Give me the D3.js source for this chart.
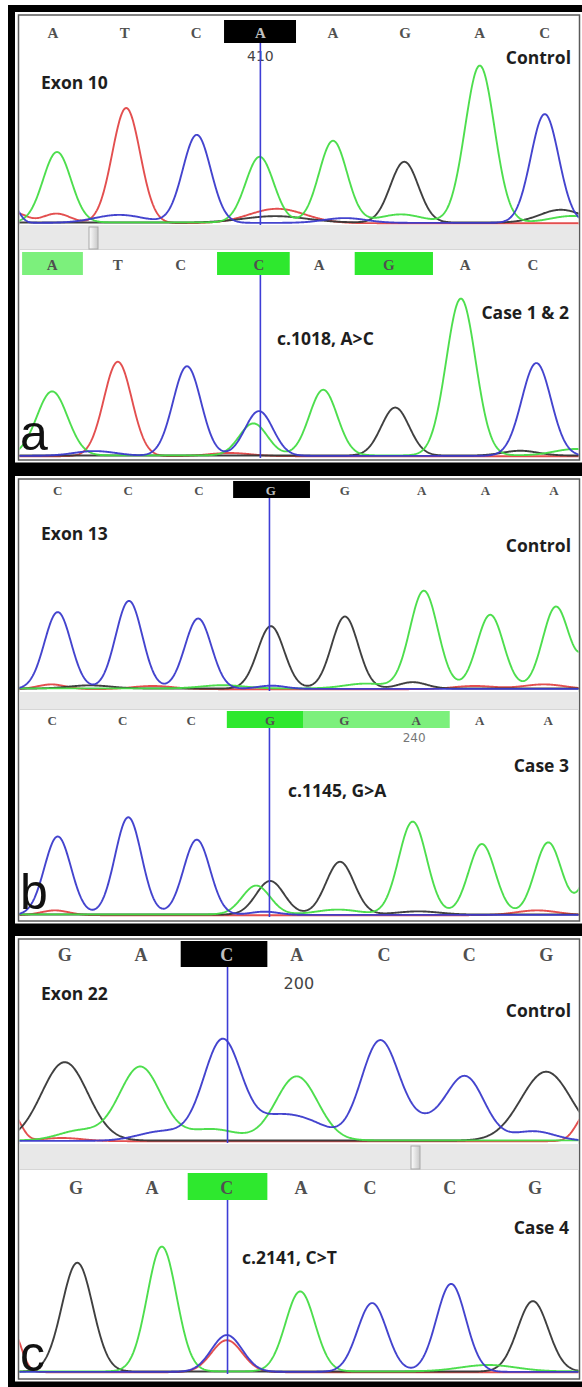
<!DOCTYPE html>
<html>
<head>
<meta charset="utf-8">
<script src="https://cdn.jsdelivr.net/npm/d3@7"></script>
<style>
  body { margin: 0; background: #fff; }
  svg { display: block; }
</style>
</head>
<body>
<svg id="fig" width="582" height="1387"></svg>
<script>
// base calls of each row, positions in base units across the window (0..8)
const callsA1 = ["A", "T", "C", "A", "A", "G", "A", "C"];
const callPosA1 = [0.47, 1.50, 2.52, 3.44, 4.48, 5.51, 6.58, 7.51];
const callsA2 = ["A", "T", "C", "C", "A", "G", "A", "C"];
const callPosA2 = [0.46, 1.40, 2.30, 3.42, 4.28, 5.28, 6.37, 7.34];
const callsB1 = ["C", "C", "C", "G", "G", "A", "A", "A"];
const callPosB1 = [0.54, 1.55, 2.56, 3.59, 4.65, 5.75, 6.66, 7.64];
const callsB2 = ["C", "C", "C", "G", "G", "A", "A", "A"];
const callPosB2 = [0.46, 1.47, 2.45, 3.58, 4.64, 5.67, 6.58, 7.56];
const callsC1 = ["G", "A", "C", "A", "C", "C", "G"];
const callPosC1 = [0.64, 1.73, 2.96, 3.96, 5.21, 6.43, 7.53];
const callsC2 = ["G", "A", "C", "A", "C", "C", "G"];
const callPosC2 = [0.80, 1.89, 2.96, 4.02, 5.01, 6.15, 7.37];

// highlighted calls [from, to, kind]
const marksA1 = [[2.92, 3.95, "sel"]];
const marksA2 = [[0.03, 0.90, "lo"], [2.82, 3.86, "hi"], [4.79, 5.91, "hi"]];
const marksB1 = [[3.05, 4.15, "sel"]];
const marksB2 = [[2.96, 4.05, "hi"], [4.05, 6.15, "lo"]];
const marksC1 = [[2.30, 3.54, "sel"]];
const marksC2 = [[2.40, 3.54, "hi"]];

// scan numbers shown above the trace [position, label]
const scanA1 = [[3.44, "410"]];
const scanB2 = [[5.64, "240"]];
const scanC1 = [[3.99, "200"]];

// mutation cursor per panel (base units)
const cursorPos = [3.44, 3.57, 2.97];

// peaks: [channel, position, height, width]
const peaksA1 = [
  ["C", -0.12, 12, 0.1], ["T", -0.05, 6, 0.15],
  ["A", 0.53, 44, 0.2], ["T", 0.52, 6, 0.2],
  ["T", 1.52, 72, 0.2], ["C", 1.42, 5, 0.35],
  ["C", 2.53, 55, 0.2],
  ["A", 3.43, 41, 0.2], ["T", 3.68, 9, 0.4], ["G", 3.65, 4, 0.45],
  ["A", 4.48, 51, 0.2], ["C", 4.65, 3, 0.3],
  ["G", 5.50, 38, 0.2], ["A", 5.45, 5, 0.3],
  ["A", 6.58, 98, 0.21],
  ["C", 7.51, 68, 0.2], ["G", 7.74, 8, 0.3], ["A", 7.9, 4, 0.3]
];
const peaksA2 = [
  ["A", 0.46, 40, 0.22], ["T", 1.40, 59, 0.2], ["C", 1.07, 3, 0.3],
  ["C", 2.39, 56, 0.2], ["T", 3.0, 2, 0.3],
  ["C", 3.42, 28, 0.2], ["A", 3.34, 20, 0.2],
  ["A", 4.34, 41, 0.2], ["G", 5.37, 30, 0.2],
  ["A", 6.31, 98, 0.21], ["G", 7.16, 3, 0.25],
  ["C", 7.39, 58, 0.21], ["A", 7.95, 4, 0.3]
];
const peaksB1 = [
  ["C", 0.54, 48, 0.19], ["C", 1.56, 55, 0.19], ["C", 2.55, 44, 0.19],
  ["G", 3.59, 39, 0.19], ["G", 4.65, 45, 0.19],
  ["A", 5.78, 61, 0.2], ["A", 6.73, 46, 0.19], ["A", 7.67, 51, 0.19], ["A", 8.3, 40, 0.19],
  ["T", 0.45, 3, 0.2], ["G", 1.0, 2, 0.3], ["T", 1.9, 2, 0.3], ["A", 2.9, 2, 0.3],
  ["C", 3.6, 2, 0.2], ["A", 4.95, 3, 0.3], ["G", 5.62, 4, 0.2], ["T", 6.5, 2, 0.3], ["T", 7.5, 3, 0.3]
];
const peaksB2 = [
  ["C", 0.54, 49, 0.19], ["C", 1.55, 61, 0.19], ["C", 2.53, 47, 0.19],
  ["G", 3.58, 21, 0.2], ["A", 3.38, 18, 0.2], ["C", 3.5, 2, 0.2],
  ["G", 4.58, 33, 0.2], ["A", 4.55, 3, 0.3],
  ["A", 5.62, 58, 0.2], ["G", 5.7, 2, 0.3],
  ["A", 6.61, 44, 0.19], ["A", 7.56, 45, 0.19], ["A", 8.3, 45, 0.19],
  ["T", 0.5, 3, 0.2], ["T", 7.4, 3, 0.3]
];
const peaksC1 = [
  ["T", -0.1, 16, 0.12], ["T", 0.6, 2, 0.3],
  ["G", 0.64, 49, 0.33], ["A", 0.85, 6, 0.3],
  ["A", 1.72, 46, 0.3], ["C", 2.05, 6, 0.35],
  ["C", 2.9, 63, 0.27], ["A", 2.75, 7, 0.35],
  ["C", 3.65, 13, 0.3], ["C", 4.15, 10, 0.3],
  ["A", 3.96, 40, 0.3],
  ["C", 5.15, 62, 0.27], ["C", 5.8, 10, 0.3],
  ["C", 6.38, 39, 0.27], ["C", 7.35, 6, 0.3],
  ["G", 7.53, 43, 0.36], ["T", 8.12, 18, 0.15]
];
const peaksC2 = [
  ["T", -0.1, 25, 0.12],
  ["G", 0.82, 68, 0.22], ["A", 2.03, 78, 0.21],
  ["C", 2.96, 23, 0.22], ["T", 2.96, 20, 0.22],
  ["A", 4.01, 50, 0.21], ["C", 5.04, 43, 0.21],
  ["C", 6.17, 55, 0.21], ["A", 6.7, 4, 0.4],
  ["G", 7.34, 44, 0.22]
];

const exonLabels = ["Exon 10", "Exon 13", "Exon 22"];
const caseLabels = ["Case 1 & 2", "Case 3", "Case 4"];
const mutLabels = ["c.1018, A>C", "c.1145, G>A", "c.2141, C>T"];
const panelLetters = ["a", "b", "c"];

// ---- layout ----
const channelColor = { A: "#45dc45", C: "#3a3acb", G: "#363636", T: "#e24646" };
const channelOffset = { A: 1.0, C: 0.7, G: 0.9, T: 0.5 };
const markFill = { sel: "#000", hi: "#2ee82e", lo: "#7cf07c" };

const panels = [
  { top: 12, bottom: 462.5, box1: [20, 43], base1: 224, bar: [225, 250], thumb: 89,
    box2: [252, 275], base2: 457, callSize: 15, scanY: 56, scanSize: 14,
    exonY: 82, ctrlY: 57, caseY: 312, mutX: 277, mutY: 338, letterY: 450,
    rows: [[callsA1, callPosA1, marksA1, peaksA1, scanA1], [callsA2, callPosA2, marksA2, peaksA2, []]] },
  { top: 476, bottom: 923.5, box1: [481, 498], base1: 690, bar: [692, 710], thumb: null,
    box2: [711, 728], base2: 916, callSize: 13, scanY: 738, scanSize: 12,
    exonY: 533, ctrlY: 545, caseY: 765, mutX: 288, mutY: 790, letterY: 909,
    rows: [[callsB1, callPosB1, marksB1, peaksB1, []], [callsB2, callPosB2, marksB2, peaksB2, scanB2]] },
  { top: 936, bottom: 1381.5, box1: [941, 967], base1: 1142, bar: [1144, 1170], thumb: 411,
    box2: [1173, 1200], base2: 1373, callSize: 18, scanY: 983, scanSize: 16,
    exonY: 993, ctrlY: 1010, caseY: 1227, mutX: 242, mutY: 1257, letterY: 1371,
    rows: [[callsC1, callPosC1, marksC1, peaksC1, scanC1], [callsC2, callPosC2, marksC2, peaksC2, []]] }
];

const svg = d3.select("#fig");
const x = d3.scaleLinear().domain([0, 8]).range([20, 579]);
const grid = d3.range(-0.05, 8.06, 0.01);
const labelFont = "'Open Sans', 'Noto Sans', sans-serif";

const defs = svg.append("defs");
const thumbGrad = defs.append("linearGradient").attr("id", "thumbGrad")
  .attr("x1", 0).attr("x2", 1).attr("y1", 0).attr("y2", 0);
thumbGrad.append("stop").attr("offset", "0%").attr("stop-color", "#fdfdfd");
thumbGrad.append("stop").attr("offset", "100%").attr("stop-color", "#c8c8c8");

// outer black frame
svg.append("rect").attr("x", 8).attr("y", 5).attr("width", 574).attr("height", 1382).attr("fill", "#000");

function signal(peaks, ch, u) {
  let s = channelOffset[ch];
  peaks.forEach(p => {
    if (p[0] == ch) s += p[2] * Math.exp(-((u - p[1]) * (u - p[1])) / (2 * p[3] * p[3]));
  });
  return s;
}

function drawCalls(g, calls, pos, marks, boxY, size) {
  marks.forEach(m => {
    g.append("rect").attr("x", x(m[0])).attr("y", boxY[0])
      .attr("width", x(m[1]) - x(m[0])).attr("height", boxY[1] - boxY[0])
      .attr("fill", markFill[m[2]]);
  });
  calls.forEach((c, i) => {
    const inSel = marks.some(m => m[2] == "sel" && pos[i] > m[0] && pos[i] < m[1]);
    g.append("text").attr("x", x(pos[i])).attr("y", (boxY[0] + boxY[1]) / 2 + 1)
      .attr("text-anchor", "middle").attr("dominant-baseline", "central")
      .style("font-family", "'Liberation Serif', 'DejaVu Serif', serif")
      .style("font-weight", "bold").style("font-size", size + "px")
      .attr("fill", inSel ? "#c0c0c0" : "#505050")
      .text(c);
  });
}

function drawTrace(g, peaks, base, top, id) {
  const y = d3.scaleLinear().domain([0, 100]).range([base, base - 160]);
  defs.append("clipPath").attr("id", id).append("rect")
    .attr("x", 19.5).attr("y", top).attr("width", 559).attr("height", base + 1.5 - top);
  const line = d3.line().x(d => x(d[0])).y(d => y(d[1]));
  const tg = g.append("g").attr("clip-path", `url(#${id})`);
  ["T", "G", "A", "C"].forEach(ch => {
    tg.append("path")
      .attr("d", line(grid.map(u => [u, signal(peaks, ch, u)])))
      .attr("fill", "none").attr("stroke", channelColor[ch])
      .attr("stroke-width", 1.9).attr("stroke-linejoin", "round").attr("opacity", 0.95);
  });
}

panels.forEach((p, k) => {
  const g = svg.append("g");
  g.append("rect").attr("x", 15).attr("y", p.top).attr("width", 567).attr("height", p.bottom - p.top).attr("fill", "#fff");
  g.append("rect").attr("x", 18.5).attr("y", p.top + 3).attr("width", 561).attr("height", p.bottom - p.top - 5.5)
    .attr("fill", "none").attr("stroke", "#5a5a5a").attr("stroke-width", 1.5);

  const [r1, r2] = p.rows;

  // scroll bar between the two traces
  g.append("rect").attr("x", 19.5).attr("y", p.bar[0]).attr("width", 559).attr("height", p.bar[1] - p.bar[0]).attr("fill", "#e8e8e8");
  g.append("line").attr("x1", 19.5).attr("x2", 578.5).attr("y1", p.bar[1] - 0.5).attr("y2", p.bar[1] - 0.5).attr("stroke", "#d6d6d6");
  if (p.thumb) {
    g.append("rect").attr("x", p.thumb).attr("y", p.bar[0] + 2).attr("width", 9).attr("height", p.bar[1] - p.bar[0] - 3)
      .attr("fill", "url(#thumbGrad)").attr("stroke", "#a8a8a8").attr("stroke-width", 1);
  }

  drawCalls(g, r1[0], r1[1], r1[2], p.box1, p.callSize);
  drawCalls(g, r2[0], r2[1], r2[2], p.box2, p.callSize);

  [r1[4], r2[4]].forEach(sc => sc.forEach(s => {
    g.append("text").attr("x", x(s[0])).attr("y", p.scanY).attr("text-anchor", "middle")
      .attr("dominant-baseline", "central")
      .style("font-family", "'DejaVu Sans', sans-serif").style("font-size", p.scanSize + "px")
      .attr("fill", k == 1 ? "#777" : "#444").text(s[1]);
  }));

  drawTrace(g, r1[3], p.base1, p.box1[1], "clipA" + k);
  drawTrace(g, r2[3], p.base2, p.box2[1], "clipB" + k);

  // mutation cursor
  [[p.box1[1], p.base1 + 1], [p.box2[1], p.base2 + 1]].forEach(seg => {
    g.append("line").attr("x1", x(cursorPos[k])).attr("x2", x(cursorPos[k]))
      .attr("y1", seg[0]).attr("y2", seg[1]).attr("stroke", "#3d3dd6").attr("stroke-width", 1.6);
  });

  const lab = (t, xx, yy, anchor) => g.append("text").attr("x", xx).attr("y", yy)
    .attr("text-anchor", anchor).attr("dominant-baseline", "central")
    .style("font-family", labelFont).style("font-weight", "bold").style("font-size", "17.5px")
    .attr("fill", "#1e1e1e").text(t);
  lab(exonLabels[k], 41, p.exonY, "start");
  lab("Control", 571, p.ctrlY, "end");
  lab(caseLabels[k], 569, p.caseY, "end");
  lab(mutLabels[k], p.mutX, p.mutY, "start");

  g.append("text").attr("x", 20).attr("y", p.letterY)
    .style("font-family", "'Liberation Sans', Arial, sans-serif").style("font-size", "50px")
    .attr("fill", "#111").text(panelLetters[k]);
});
</script>
</body>
</html>
